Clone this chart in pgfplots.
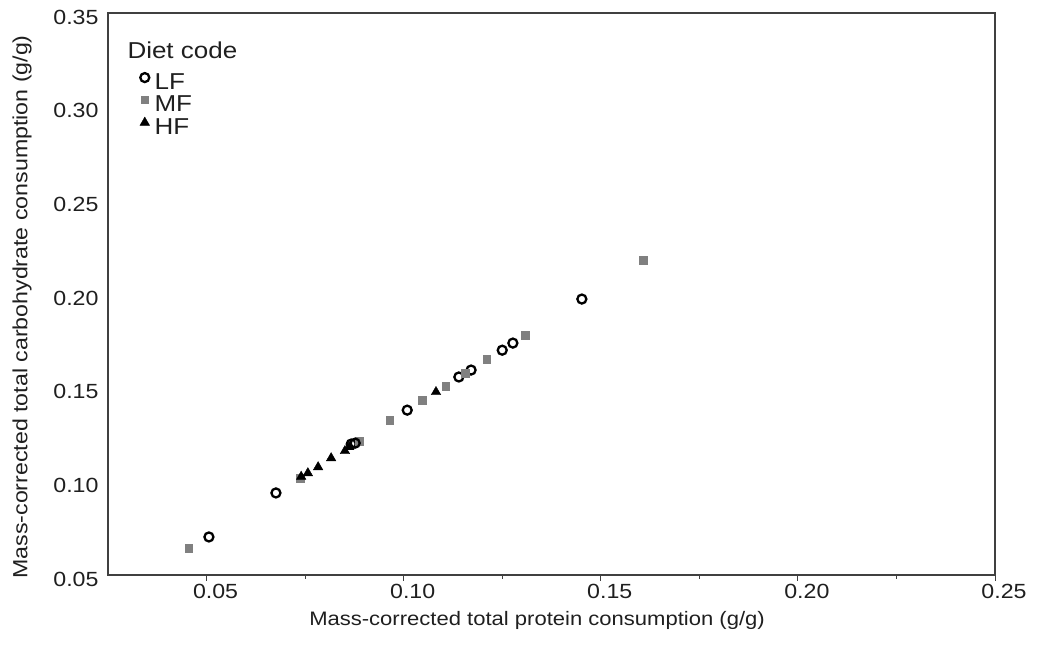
\documentclass[border=0pt]{standalone}
\usepackage{pgfplots}
\pgfplotsset{compat=1.18}
\usepackage{fontspec}
\setmainfont[FakeStretch=1.13]{Liberation Sans}
\definecolor{axgray}{HTML}{404040}
\definecolor{mfgray}{HTML}{808080}
\pgfplotsset{onemark/.style={legend image code/.code={\draw[##1] plot coordinates {(2.5pt,4pt)};}}}
\newcommand{\fs}{\fontsize{20.5}{24}\selectfont}
\newcommand{\fx}{\fontsize{19.5}{24}\selectfont}
\newcommand{\fl}{\fontsize{23}{26}\selectfont}
\begin{document}
\begin{tikzpicture}[x=1pt,y=1pt]
\path[use as bounding box] (0,0) rectangle (1037,648);
\begin{axis}[
  at={(108pt,73pt)}, anchor=south west,
  scale only axis, width=887pt, height=562pt,
  xmin=0.025, xmax=0.25, ymin=0.05, ymax=0.35,
  xtick={0.05,0.10,0.15,0.20,0.25},
  ytick={0.05,0.10,0.15,0.20,0.25,0.30,0.35},
  minor xtick={0.075,0.125,0.175,0.225},
  xticklabel style={/pgf/number format/.cd, fixed, precision=2, fixed zerofill, /tikz/.cd, xshift=9pt},
  yticklabel style={/pgf/number format/.cd, fixed, precision=2, fixed zerofill, /tikz/.cd, yshift=-4pt},
  /pgf/number format/assume math mode=true,
  ticklabel style={font=\fs, text=black!88},
  axis line style={axgray, line width=1.6pt},
  tick align=outside, xtick pos=bottom, ytick pos=left,
  xtick style={axgray, line width=0.8pt},
  ytick style={draw=none},
  major tick length=6pt, minor tick length=4pt,
  xlabel={Mass-corrected total protein consumption (g/g)},
  ylabel={Mass-corrected total carbohydrate consumption (g/g)},
  label style={font=\fs, text=black!88},
  xlabel style={font=\fx, at={(axis description cs:0.4837,-0.080)}, anchor=center},
  ylabel style={at={(axis description cs:-0.097,0.477)}, anchor=center, rotate=0},
  legend style={draw=none, fill=none, at={(axis description cs:0.0325,0.897)}, anchor=north west,
    font=\fl, text=black!88, row sep=5pt,
    nodes={inner sep=0.5pt, text height=16pt, text depth=0pt},
    /tikz/every odd column/.append style={column sep=4.5pt}},
  legend cell align=left,
  clip=false,
]
\node[anchor=west, font=\fl, text=black!88] at (axis description cs:0.018,0.934) {Diet code};
\addplot[only marks, mark=o, mark size=4.5pt, black, mark options={line width=2.3pt}, onemark] coordinates {
(0.0506,0.0703) (0.0676,0.0938) (0.0867,0.1199) (0.1009,0.1380)
(0.1140,0.1557) (0.1171,0.1594) (0.1250,0.1700) (0.1277,0.1738) (0.1452,0.1973)
};
\addlegendentry{LF}
\addplot[only marks, mark=square*, mark size=3.8pt, mfgray, mark options={draw=none, fill=mfgray}, onemark] coordinates {
(0.0455,0.0644) (0.0737,0.1018) (0.0887,0.1215) (0.0965,0.1327) (0.1047,0.1434)
(0.1107,0.1509) (0.1156,0.1578) (0.1211,0.1653) (0.1308,0.1780) (0.1607,0.2181)
};
\addlegendentry{MF}
\addplot[only marks, mark=triangle*, mark size=5.5pt, black, onemark] coordinates {
(0.0740,0.1025) (0.0757,0.1044) (0.0783,0.1076) (0.0816,0.1124)
(0.0851,0.1162) (0.0862,0.1183) (0.1082,0.1477)
};
\addlegendentry{HF}
\addplot[only marks, mark=o, mark size=4.5pt, black, mark options={line width=2.3pt}, forget plot] coordinates {
(0.0877,0.1204)
};
\end{axis}
\end{tikzpicture}
\end{document}
